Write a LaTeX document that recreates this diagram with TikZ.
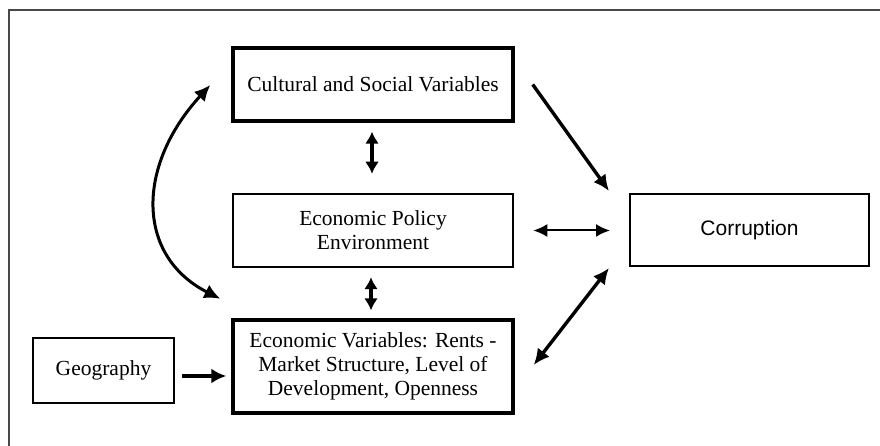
\documentclass[tikz,border=0pt]{standalone}
\usepackage{fontspec}
\setmainfont{Liberation Serif}
\newfontfamily\arialfont{Liberation Sans}
\usetikzlibrary{arrows.meta}
\begin{document}
\begin{tikzpicture}[x=1pt,y=1pt,
  boxbase/.style={draw=black, rectangle, inner sep=0pt, align=center,
    font=\fontsize{21.5}{24}\selectfont},
  thickbox/.style={boxbase, line width=3.4pt},
  thinbox/.style={boxbase, line width=2.5pt},
  tip/.tip={Latex[length=16pt,width=15pt]},
  vtip/.tip={Latex[length=12pt,width=14pt]},
  arr/.style={line width=3.4pt, -tip},
  darr/.style={line width=3.4pt, tip-tip},
  varr/.style={line width=3.8pt, vtip-vtip},
  ]
\useasboundingbox (0,0) rectangle (880,446);
\fill[white] (0,0) rectangle (880,446);
% outer frame
\coordinate (fbl) at (9,-5);
\coordinate (ftl) at (9,436);
\coordinate (ftr) at (885,436);
\draw[line width=2.2pt, draw=black!72] (fbl) -- (ftl) -- (ftr);

\node[thickbox, minimum width=280, minimum height=73] (cult) at (373,361.5) {Cultural and Social Variables};
\node[thinbox, minimum width=280, minimum height=73] (policy) at (373,215.5) {Economic Policy\\Environment};
\node[thickbox, minimum width=280, minimum height=93] (econ) at (373,79.5) {Economic Variables: Rents -\\Market Structure, Level of\\Development, Openness};
\node[thinbox, minimum width=141, minimum height=65] (geo) at (103.5,75.5) {Geography};
\node[boxbase, line width=2pt, minimum width=239, minimum height=72, font=\arialfont\fontsize{21}{24}\selectfont] (corr) at (749.5,216) {Corruption};

% connectors
\draw[varr] ([xshift=-1,yshift=-9]cult.south) -- ([xshift=-1,yshift=19]policy.north);
\draw[varr] ([xshift=-2,yshift=-9]policy.south) -- ([xshift=-2,yshift=8]econ.north);
\draw[line width=2pt, {Latex[length=14pt,width=13pt]}-{Latex[length=14pt,width=13pt]}] ([xshift=19]policy.east) -- ([xshift=-19,yshift=-0.5]corr.west);
\draw[arr] ([xshift=18]cult.east) -- ([xshift=-20,yshift=2]corr.north west);
\draw[darr] ([xshift=-20,yshift=-1]corr.south west) -- ([xshift=19,yshift=1.5]econ.east);
\draw[line width=4pt, -{Latex[length=15pt,width=15pt]}] ([xshift=7,yshift=-5.5]geo.east) -- ([xshift=-5,yshift=-9.5]econ.west);
\draw[darr, line width=3pt] ([xshift=-11,yshift=19.5]econ.north west) .. controls (136,190) and (136,280) .. ([xshift=-21,yshift=-0.5]cult.west);
\end{tikzpicture}
\end{document}
